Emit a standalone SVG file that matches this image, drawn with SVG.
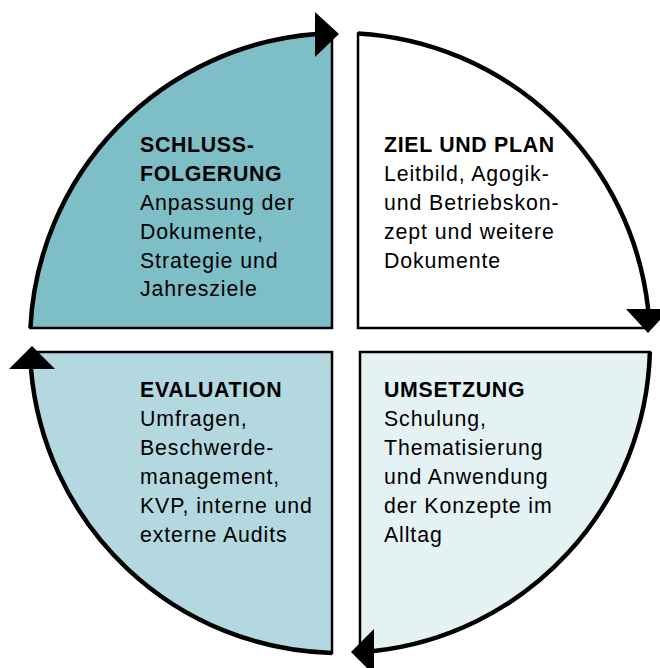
<svg xmlns="http://www.w3.org/2000/svg" width="660" height="668" viewBox="0 0 660 668">
<style>
.q{stroke:#000;stroke-width:2.5;stroke-linejoin:miter}
.arc{fill:none;stroke:#000;stroke-width:4.5}
.head{fill:#000}
text{font-family:"Liberation Sans",Arial,sans-serif;font-size:21.3px;fill:#000;letter-spacing:0.9px}
.t{font-weight:bold;letter-spacing:0.7px}
</style>
<rect width="660" height="668" fill="#fff"/>
<g id="schlussfolgerung">
<path class="q" fill="#7ebec7" d="M332,328 L30.4,328 A310,310 0 0 1 332,33.1 Z"/>
<text x="140" y="152"><tspan class="t">SCHLUSS-</tspan><tspan class="t" x="140" dy="29">FOLGERUNG</tspan><tspan x="140" dy="29">Anpassung der</tspan><tspan x="140" dy="28.5">Dokumente,</tspan><tspan x="140" dy="29">Strategie und</tspan><tspan x="140" dy="28.5">Jahresziele</tspan></text>
</g>
<g id="ziel-und-plan">
<path class="q" fill="#fff" d="M358,328 L358,33.5 A310,310 0 0 1 649.6,328 Z"/>
<text x="384" y="152"><tspan class="t">ZIEL UND PLAN</tspan><tspan x="384" dy="29">Leitbild, Agogik-</tspan><tspan x="384" dy="29">und Betriebskon-</tspan><tspan x="384" dy="28.5">zept und weitere</tspan><tspan x="384" dy="29">Dokumente</tspan></text>
</g>
<g id="umsetzung">
<path class="q" fill="#e5f2f4" d="M360,352 L649.9,352 A310,310 0 0 1 360,652.4 Z"/>
<text x="384" y="397"><tspan class="t">UMSETZUNG</tspan><tspan x="384" dy="28.5">Schulung,</tspan><tspan x="384" dy="29">Thematisierung</tspan><tspan x="384" dy="29">und Anwendung</tspan><tspan x="384" dy="29">der Konzepte im</tspan><tspan x="384" dy="29">Alltag</tspan></text>
</g>
<g id="evaluation">
<path class="q" fill="#b4d8df" d="M332,352 L332,652.9 A310,310 0 0 1 30.1,352 Z"/>
<text x="140" y="397"><tspan class="t">EVALUATION</tspan><tspan x="140" dy="28.5">Umfragen,</tspan><tspan x="140" dy="29">Beschwerde-</tspan><tspan x="140" dy="29">management,</tspan><tspan x="140" dy="29">KVP, interne und</tspan><tspan x="140" dy="29">externe Audits</tspan></text>
</g>
<g id="connectors">
<path class="arc" d="M30.4,328 A310,310 0 0 1 316,34"/>
<polygon class="head" points="315,12 339,34 315,57"/>
<path class="arc" d="M358,33.5 A310,310 0 0 1 648.1,309"/>
<polygon class="head" points="626,309 670,309 648,333"/>
<path class="arc" d="M649.9,352 A310,310 0 0 1 374,651"/>
<polygon class="head" points="374,629 374,675 351,652"/>
<path class="arc" d="M332,652.9 A310,310 0 0 1 31,369"/>
<polygon class="head" points="9,369 55,369 32,346"/>
</g>
</svg>
